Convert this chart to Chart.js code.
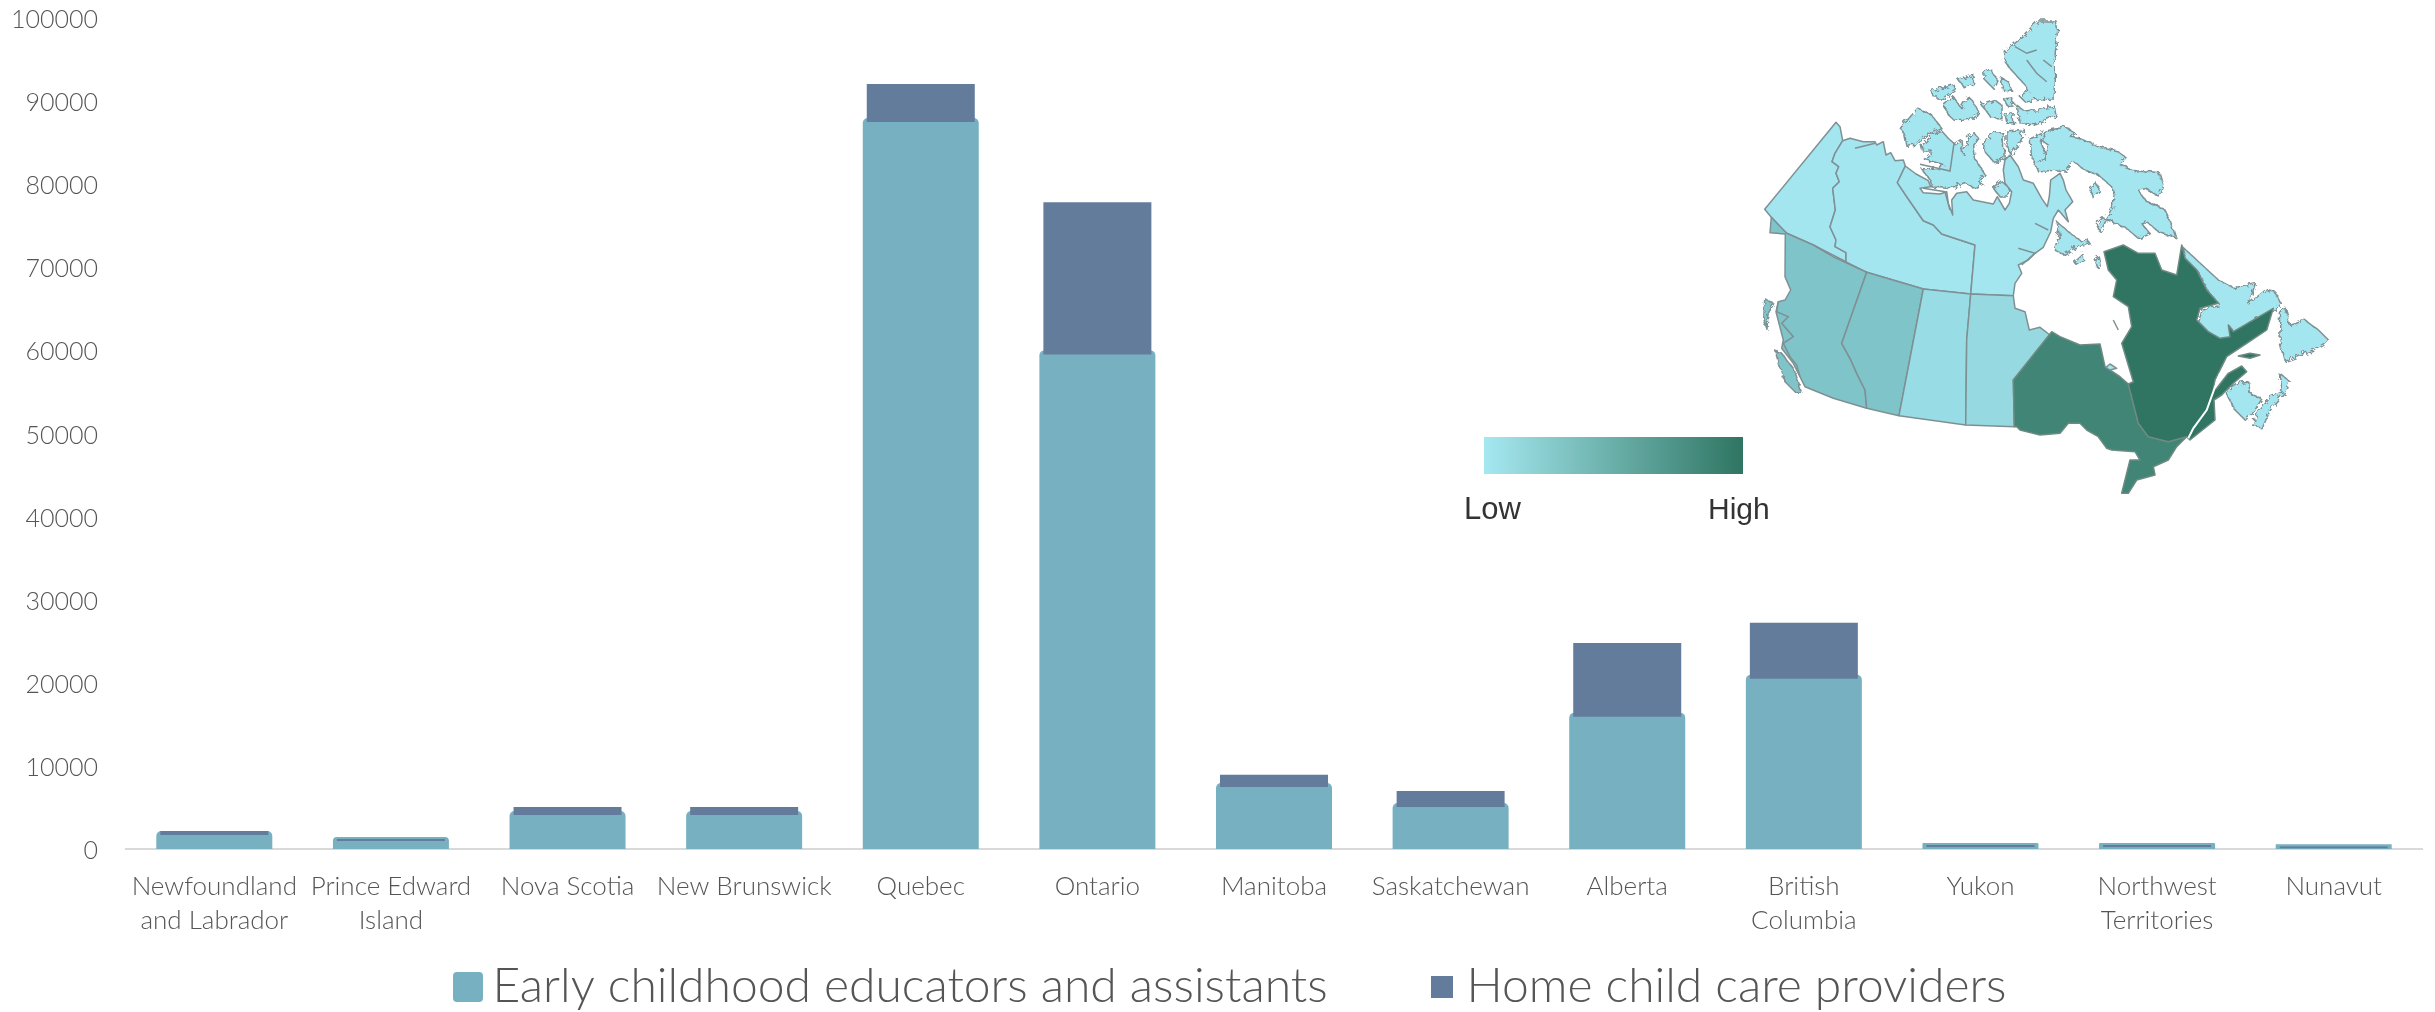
<!DOCTYPE html>
<html>
<head>
<meta charset="utf-8">
<title>Child care workers by province</title>
<script src="https://cdn.jsdelivr.net/npm/chart.js@4"></script>
<style>
  html, body { margin: 0; padding: 0; background: #fff; }
  #wrap { position: relative; width: 2435px; height: 1012px; overflow: hidden; }
  #chart, #map { position: absolute; left: 0; top: 0; }
</style>
</head>
<body>
<div id="wrap">
  <canvas id="chart" width="2435" height="1012"></canvas>
  <svg id="map" width="2435" height="1012" viewBox="0 0 2435 1012">
    <defs>
      <linearGradient id="lowHigh">
        <stop offset="0" stop-color="#a6e8f0"/>
        <stop offset="1" stop-color="#2f7562"/>
      </linearGradient>
      <filter id="rough" x="-5%" y="-5%" width="110%" height="110%">
        <feTurbulence type="turbulence" baseFrequency="0.13" numOctaves="2" seed="4" result="n"/>
        <feDisplacementMap in="SourceGraphic" in2="n" scale="6"/>
      </filter>
    </defs>
    <rect x="1484" y="437" width="259" height="37" fill="url(#lowHigh)"/>
    <text x="1464" y="519" font-family="Liberation Sans" font-size="31" fill="#333">Low</text>
    <text x="1708" y="519" font-family="Liberation Sans" font-size="30" fill="#333">High</text>
    <g id="roughLand" filter="url(#rough)"></g>
    <g id="land"></g>
  </svg>
</div>
<script>
var categories = [["Newfoundland", "and Labrador"], ["Prince Edward", "Island"], "Nova Scotia", "New Brunswick", "Quebec", "Ontario", "Manitoba", "Saskatchewan", "Alberta", ["British", "Columbia"], "Yukon", ["Northwest", "Territories"], "Nunavut"];
var educators = [1690, 960, 4100, 4100, 87470, 59520, 7470, 5060, 15900, 20480, 240, 240, 100];
var homeCare = [480, 240, 960, 960, 4580, 18310, 1450, 1930, 8900, 6750, 240, 240, 200];
var seriesNames = ["Early childhood educators and assistants", "Home child care providers"];

var TEAL = "#77b0c1";
var SLATE = "#647c9c";
var TEXT = "#555555";
var FONT = "Lato";

// legend swatches: rounded teal one is bigger than the slate one, same as the picture
function swatch(size, radius, color) {
    var c = document.createElement("canvas");
    c.width = size;
    c.height = size;
    var g = c.getContext("2d");
    g.fillStyle = color;
    g.beginPath();
    g.roundRect(0, 0, size, size, radius);
    g.fill();
    return c;
}
var swatches = [swatch(30, 4, TEAL), swatch(22, 0, SLATE)];

// slate sits on top of the teal and has to be drawn after it, so it floats instead of stacking
var homeCareBars = homeCare.map(function(v, i) { return [educators[i], educators[i] + v]; });

new Chart(document.getElementById("chart").getContext("2d"), {
    type: "bar",
    data: {
        labels: categories,
        datasets: [
            {
                label: seriesNames[0],
                data: educators,
                backgroundColor: TEAL,
                inflateAmount: 4, // the teal bars stick out 4px all round behind the slate ones
                borderRadius: { topLeft: 5, topRight: 5 },
                order: 2
            },
            {
                label: seriesNames[1],
                data: homeCareBars,
                backgroundColor: SLATE,
                inflateAmount: 0,
                order: 1
            }
        ]
    },
    plugins: [{
        id: "moveLegend",
        afterLayout: function(chart) {
            chart.legend.left += 26;
            chart.legend.right += 26;
            chart.legend.top += 9;
        }
    }],
    options: {
        responsive: false,
        animation: false,
        datasets: { bar: { categoryPercentage: 1, barPercentage: 0.6115 } },
        layout: { padding: { top: 18, right: 13, bottom: 0, left: 0 } },
        scales: {
            x: {
                stacked: true,
                afterFit: function(scale) { scale.height = 99; },
                grid: { display: false },
                border: { color: "#d9d9d9", width: 2 },
                ticks: {
                    color: TEXT,
                    padding: 13,
                    maxRotation: 0,
                    autoSkip: false,
                    font: { family: FONT, size: 26, weight: "300", lineHeight: 1.31 }
                }
            },
            y: {
                min: 0,
                max: 100000,
                afterFit: function(scale) { scale.width = 126; scale.paddingTop = 0; },
                grid: { display: false },
                border: { display: false },
                ticks: {
                    stepSize: 10000,
                    color: TEXT,
                    padding: 20,
                    labelOffset: 2,
                    callback: function(v) { return String(v); },
                    font: { family: FONT, size: 25, weight: "300" }
                }
            }
        },
        plugins: {
            tooltip: { enabled: false },
            legend: {
                position: "bottom",
                labels: {
                    usePointStyle: true,
                    pointStyleWidth: 1,
                    padding: 6,
                    color: TEXT,
                    font: { family: FONT, size: 48, weight: "300" },
                    generateLabels: function(chart) {
                        var items = Chart.defaults.plugins.legend.labels.generateLabels(chart);
                        items.sort(function(a, b) { return a.datasetIndex - b.datasetIndex; });
                        items.forEach(function(item, i) {
                            item.pointStyle = swatches[i];
                            item.lineWidth = 0;
                        });
                        items[0].text = items[0].text + "\u2003\u2003\u2003";
                        return items;
                    }
                }
            }
        }
    }
});

// The inset map is an illustration hand traced off the picture, not chart data.
// Outlines are written in 3x crop coordinates, each crop has its own origin.
var crops = { a: [1760, 10], b: [2030, 10], c: [1750, 240], d: [2020, 240] };
var LIGHT = "#a3e6f0", BCAB = "#7fc4c9", SK = "#98dde5", MB = "#96d9e0", ON = "#408575", QC = "#2f7562";

// jagged coasts, these go through the rough filter
var islands = [
    [LIGHT, ["a", "418 352 470 292 510 310 540 350 490 372 465 400 435 403 428 370"]],
    [LIGHT, ["a", "480 400 510 370 540 358 560 380 580 398 600 385 605 430 620 378 640 365 650 380 635 400 640 440 670 490 650 510 665 520 640 530 610 515 570 530 510 525 505 505 480 470 540 470 545 460 490 445 515 420 485 420"]],
    [LIGHT, ["a", "665 400 690 365 725 365 730 440 700 455 670 420"]],
    [LIGHT, ["a", "735 360 790 355 770 400 750 430 735 400"]],
    [LIGHT, ["a", "695 530 720 510 745 530 740 555 715 555"]],
    [LIGHT, ["a", "545 280 575 255 600 290 620 255 635 270 650 300 635 320 580 328 560 310"]],
    [LIGHT, ["a", "508 240 575 218 582 235 545 262 520 260"]],
    [LIGHT, ["a", "592 205 635 188 635 220 610 230"]],
    [LIGHT, ["a", "668 180 690 175 708 210 695 230 670 205"]],
    [LIGHT, ["a", "715 195 740 210 752 238 725 235"]],
    [LIGHT, ["a", "660 280 700 265 720 280 720 320 690 320"]],
    [LIGHT, ["a", "725 260 750 258 760 280 740 285"]],
    [LIGHT, ["a", "730 310 755 305 758 335 735 335"]],
    [LIGHT, ["a", "765 280 790 300 840 295 880 285 885 315 820 338 775 335"]],
    [LIGHT, ["a", "730 120 750 100 790 70 830 30 885 30 890 60 880 120 880 190 880 260 830 265 790 270 775 255 800 240 790 220 745 170 730 150"]],
    [LIGHT, ["a", "805 380 850 360 840 400 860 445 820 455 808 430"]],
    [LIGHT, ["b", "50 355 100 345 130 365 115 375 145 380 200 405 260 420 285 440 265 460 300 475 385 485 395 520 385 555 340 530 320 535 345 570 400 595 425 650 435 680 380 660 345 630 330 635 355 665 320 680 290 655 250 635 215 620 195 640 205 660 225 620 245 590 245 530 200 490 160 475 125 450 100 480 60 475 20 480 10 455 40 440 50 400 30 385"]],
    [LIGHT, ["b", "75 630 110 660 150 690 170 685 175 695 140 705 100 730 70 715 85 670"]],
    [LIGHT, ["b", "128 750 155 725 158 745 135 760"]],
    [LIGHT, ["b", "190 745 202 735 207 760 197 768"]],
    [LIGHT, ["b", "175 530 195 515 205 540 185 560"]],
    [BCAB, ["c", "72 330 90 335 125 380 150 450 135 455 100 420"]],
    [BCAB, ["c", "38 170 65 185 48 215 45 262 35 230"]],
    [LIGHT, ["d", "482 15 520 50 590 115 640 140 700 125 680 185 730 145 760 150 778 185 760 205 640 275 625 255 630 290 600 295 565 275 530 240 540 205 595 190 560 150 530 90 495 55"]],
    [LIGHT, ["d", "775 215 790 195 805 250 850 235 890 265 920 295 905 310 870 330 790 358 778 310"]],
    [LIGHT, ["d", "610 450 650 425 680 420 685 455 720 470 695 510 670 535 640 505"]],
    [LIGHT, ["d", "695 555 710 510 745 465 780 450 775 395 805 420 790 455 745 505 720 560"]]
];

var shapes = [
    // Yukon, NWT, Nunavut mainland
    [LIGHT, ["a", "228 337 240 350 248 392 225 430 216 455 236 470 228 490 238 515 218 535 226 600 210 650 228 690 225 710 258 728 258 755 160 705 80 670 34 622 14 598"]],
    [LIGHT, ["a", "248 392 270 385 310 395 345 395 350 405 370 395 378 435 392 428 405 452 430 450 436 468 412 518 440 560 490 632 520 645 545 672 645 705"], ["c", "662 162 520 147 350 97 288 66"], ["a", "258 728 225 710 228 690 210 650 226 600 218 535 238 515 228 490 236 470 216 455 225 430"]],
    [LIGHT, ["a", "436 468 468 492 505 512 512 530 480 535 490 548 540 552 560 545 565 580 578 615 575 570 590 550 620 545 640 570 700 582 712 560 735 600 748 580 755 545 735 520 730 480 735 450 750 435 775 470 790 510 820 520 845 565 862 590 868 560 872 510 900 490"], ["b", "100 510 108 540 128 575 105 600 115 635 85 600 70 625 62 665 40 712"], ["c", "855 40 835 60 805 75 815 100 795 130 790 167 662 162 675 15"], ["a", "545 672 520 645 490 632 440 560 412 518"]],
    // Prairies and BC
    [BCAB, ["a", "34 622 30 668 76 672"], ["c", "105 110 122 150 105 180 85 185 78 215 100 300 95 325 130 370 165 440 250 475 350 505 345 450 320 400 300 355 275 310 350 97 250 50 190 15"], ["a", "80 670"]],
    [BCAB, ["c", "350 97 520 147 447 527 350 505 345 450 320 400 300 355 275 310"]],
    [SK, ["c", "520 147 662 162 650 300 647 555 447 527"]],
    [MB, ["c", "662 162 790 167 795 205 825 215 838 270 870 262 900 285 790 420 793 560 647 555 650 300"]],
    // Ontario, Quebec
    [ON, ["d", "95 275 120 290 180 315 240 312 255 380 300 410 325 432 355 550 385 590 445 605 500 590 470 620 445 660 400 680 405 705 350 720 325 760 305 760 330 660 360 660 345 635 275 630 260 625 235 590 200 570 180 550 145 550 120 580 60 585 0 570"], ["c", "800 560 793 560 790 420"]],
    [QC, ["d", "252 35 310 15 355 40 405 40 425 90 470 105 485 15 495 55 530 90 560 150 595 190 540 205 530 240 565 275 600 295 630 290 625 255 640 275 760 205 740 270 680 310 620 350 605 380 585 420 580 450 590 445 625 400 665 378 680 395 640 430 605 465 582 480 585 540 510 600 500 590 445 605 385 590 355 550 325 432 340 425 305 310 335 260 325 200 280 170 290 120 265 90"]],
    [QC, ["d", "655 348 690 340 720 345 690 355"]],
    [LIGHT, ["d", "258 382 270 372 290 385 270 390"]]
];

// gray line work: fjords, inner borders
var lines = [
    ["a", "582 400 570 483 480 463"],
    ["a", "285 415 345 400"],
    ["a", "765 110 800 130 830 120"],
    ["a", "800 150 830 190 860 215"],
    ["a", "850 150 875 170"],
    ["a", "825 640 865 660"],
    ["a", "490 535 555 545 570 600"],
    ["c", "85 185 80 215 115 230 95 250 130 290 100 310 120 350 140 375 150 410"],
    ["c", "805 25 855 40 815 75"],
    ["d", "280 240 295 270"]
];

function toPoints(seg) {
    var o = crops[seg[0]], n = seg[1].split(" "), out = [];
    for (var i = 0; i < n.length; i += 2) {
        out.push((o[0] + n[i] / 3).toFixed(1) + "," + (o[1] + n[i + 1] / 3).toFixed(1));
    }
    return out;
}

var SVGNS = "http://www.w3.org/2000/svg";
function addPolygons(list, parent) {
    list.forEach(function(s) {
        var pts = [];
        s.slice(1).forEach(function(seg) { pts = pts.concat(toPoints(seg)); });
        var p = document.createElementNS(SVGNS, "polygon");
        p.setAttribute("points", pts.join(" "));
        p.setAttribute("fill", s[0]);
        p.setAttribute("stroke", s[0] == ON || s[0] == QC ? "#6d8a83" : "#7f9094");
        p.setAttribute("stroke-width", "1.5");
        p.setAttribute("stroke-linejoin", "round");
        parent.appendChild(p);
    });
}
addPolygons(islands, document.getElementById("roughLand"));
var land = document.getElementById("land");
addPolygons(shapes, land);
lines.forEach(function(seg) {
    var l = document.createElementNS(SVGNS, "polyline");
    l.setAttribute("points", toPoints(seg).join(" "));
    l.setAttribute("fill", "none");
    l.setAttribute("stroke", "#7f9094");
    l.setAttribute("stroke-width", "1.5");
    land.appendChild(l);
});
// the St Lawrence as a thin white sliver
var river = document.createElementNS(SVGNS, "polyline");
river.setAttribute("points", toPoints(["d", "600 400 578 460 560 510 520 565 505 595"]).join(" "));
river.setAttribute("fill", "none");
river.setAttribute("stroke", "#fff");
river.setAttribute("stroke-width", "2");
land.appendChild(river);
</script>
</body>
</html>
